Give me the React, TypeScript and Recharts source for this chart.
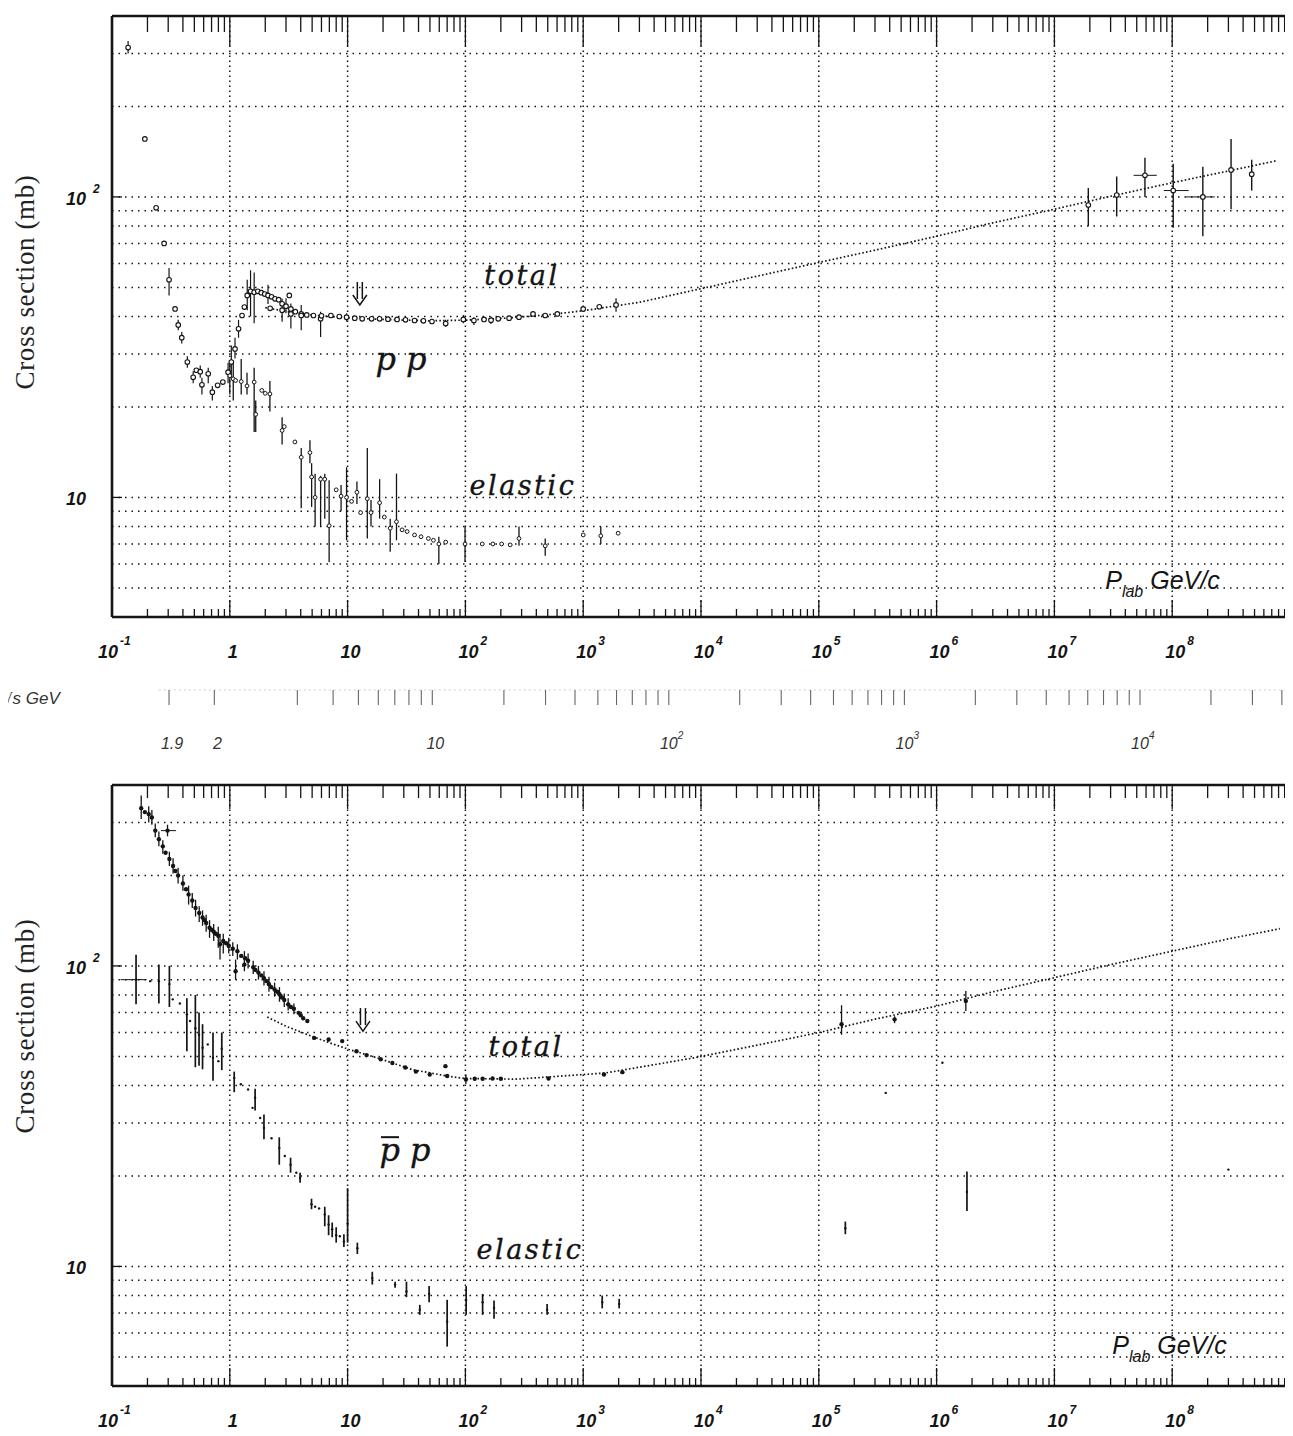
import React from "react";
import {
  ComposedChart,
  XAxis,
  YAxis,
  Scatter,
  ErrorBar,
  ReferenceLine,
  ReferenceDot,
} from "recharts";

const W = 1293;
const INK = "#141414";
const SANS = '"Liberation Sans", Arial, sans-serif';
const SERIF = '"DejaVu Serif", "Liberation Serif", serif';
const TIMES = '"Liberation Serif", "Times New Roman", serif';
const M_P = 0.938;

// axis values
const decades = [0.1, 1, 10, 100, 1e3, 1e4, 1e5, 1e6, 1e7, 1e8, 1e9];
const minorSteps = [2, 3, 4, 5, 6, 7, 8, 9];
const xTicks = [
  ...decades,
  ...decades.slice(0, -1).flatMap((d) => minorSteps.map((k) => k * d)),
].sort((a, b) => a - b);
const yGrid = [5, 6, 7, 8, 9, 10, 20, 30, 40, 50, 60, 70, 80, 90, 100, 200, 300];
const yLabels = [10, 100];

// sqrt(s) scale under the top panel
const sqrtS = [
  1.9, 2, 3, 4, 5, 6, 7, 8, 9, 10, 20, 30, 40, 50, 60, 70, 80, 90, 100, 200,
  300, 400, 500, 600, 700, 800, 900, 1000, 2000, 3000, 4000, 5000, 6000, 7000,
  8000, 9000, 10000, 20000, 30000, 40000,
];
const sqrtLabels = [1.9, 2, 10, 100, 1000, 10000];

// [p_lab, sigma, low, high]  (mb)
const ppTotal = [
  [0.137, 314, 300, 330], [0.19, 156], [0.237, 92], [0.277, 70],
  [0.305, 53, 47, 58], [0.343, 42.4], [0.365, 37.5, 36, 39], [0.391, 34, 32.5, 35.5],
  [0.436, 28.2, 27, 29.5], [0.489, 25.1, 24, 26.3], [0.52, 26.5], [0.561, 26.2, 25, 27.5],
  [0.58, 23.7, 22, 25], [0.656, 25.8, 24, 27], [0.711, 22.4, 21, 23.5], [0.788, 23.6],
  [0.873, 24.2], [0.967, 26.1, 24, 28], [1.03, 28.2, 25, 32], [1.107, 31.2, 29, 34],
  [1.186, 36.4, 34, 39], [1.27, 40.3], [1.33, 43], [1.406, 47, 42, 53],
  [1.5, 48.5, 40, 57], [1.61, 48.2, 38, 56], [1.73, 48.5], [1.85, 48],
  [1.98, 47.5], [2.11, 47, 44, 51], [2.2, 42.6], [2.26, 46.5], [2.42, 45.8],
  [2.6, 45.5], [2.78, 44.1], [2.78, 42, 38.4, 45.8], [3.0, 43.3, 41, 46], [3.2, 47],
  [3.3, 42.4], [3.3, 40.8, 36.5, 44.2], [3.6, 41.5], [4.04, 40.8], [4.04, 40.3, 36, 43.7],
  [4.5, 40.5], [5.13, 40.3], [5.9, 39.3, 34.2, 41.5], [6.0, 40.2], [7.21, 40.3],
  [8.5, 40], [9.8, 39.8, 38.5, 41], [11.5, 39.5], [13.3, 39.3], [16, 39.3],
  [18.7, 39.3], [22, 39.2], [26.3, 39.1], [31, 39], [37, 38.8], [44, 38.7],
  [52, 38.5], [68, 37.9, 37, 39], [96, 39.1, 38, 40.5], [118, 38.8, 37.5, 39.8],
  [144, 39.1], [165, 38.9, 37.8, 40], [190, 39.3], [235, 39.5], [285, 39.8],
  [375, 40.8], [476, 40.3], [603, 40.8], [1000, 42.4], [1370, 43.1],
  [1900, 43.7, 41.5, 46],
];

// cosmic ray points [p, sigma, low, high, pLow, pHigh]
const ppCosmic = [
  [1.94e7, 94, 80, 107], [3.38e7, 101.5, 86, 117],
  [5.87e7, 118, 100, 135, 4.7e7, 7.4e7], [1.02e8, 105, 79, 129, 8.5e7, 1.38e8],
  [1.82e8, 100, 74, 126, 1.3e8, 2.3e8], [3.16e8, 123, 91, 156], [4.73e8, 119, 105, 133],
];

const ppFit = [
  [2.0, 42.8], [3, 41.6], [5, 40.4], [10, 39.6], [20, 39.1], [50, 38.7],
  [100, 38.9], [200, 39.4], [500, 40.5], [1000, 41.8], [3000, 44.6], [1e4, 49.5],
  [3e4, 54.5], [1e5, 60.5], [3e5, 66.5], [1e6, 74], [3e6, 82], [1e7, 91],
  [3e7, 100.5], [1e8, 111.5], [3e8, 122], [7.7e8, 132],
];

const ppElastic = [
  [1.0, 25.4, 22, 28], [1.07, 24.8, 21, 28.5], [1.12, 24.5], [1.25, 24.3, 22, 28.9],
  [1.4, 23.5, 22, 26], [1.61, 24.2, 16.5, 27], [1.66, 18.9, 16.5, 21], [1.87, 22.7],
  [2.0, 22.2], [2.19, 22.1, 19.3, 24.4], [2.78, 16.7, 15, 18.5], [2.9, 17.2],
  [3.57, 15.3], [4.04, 13.6, 9.2, 14.6], [4.79, 14.1, 13, 15.5], [4.95, 11.7, 9.3, 13],
  [5.3, 10, 8, 12], [5.9, 11.5, 8, 11.8], [6.4, 11.5, 8.5, 12], [6.97, 8.05, 6.1, 11.4],
  [8.0, 10.6], [8.8, 10.1, 9, 11], [9.8, 10, 7.2, 12.6], [10.8, 9.7],
  [12, 10.4, 9.5, 11.3], [12.9, 8.9], [14.7, 9.9, 7.3, 14.6], [15.8, 8.9, 8, 9.8],
  [18.7, 9.6, 8.5, 11.5], [20.5, 8.6], [23, 7.9, 6.6, 8.5], [26, 8.3, 7.2, 12],
  [29, 7.8], [32, 7.7], [37, 7.5], [42, 7.4], [48.5, 7.3], [53.5, 7.2],
  [59.5, 7.0, 6.0, 7.4], [68, 7.1], [99.3, 7.0, 6.1, 8.0], [139, 7.0], [171, 7.0],
  [203, 7.0], [240, 6.95], [285, 7.3, 6.9, 8.0], [476, 6.9, 6.4, 7.3], [1000, 7.5],
  [1410, 7.45, 7.0, 8.0], [1980, 7.6],
];

const pbarpTotal = [
  [0.177, 335, 308, 369], [0.19, 325], [0.205, 320, 300, 340], [0.218, 312, 295, 330],
  [0.233, 282, 268, 298], [0.25, 264, 250, 280], [0.27, 250, 236, 262], [0.285, 238],
  [0.296, 282, 270, 295, 0.26, 0.35], [0.307, 227, 215, 240], [0.33, 215, 203, 228],
  [0.345, 207], [0.364, 200, 188, 212], [0.4, 188, 178, 200], [0.425, 180],
  [0.447, 173, 160, 185], [0.48, 165, 156, 175], [0.512, 156, 146, 166], [0.55, 150, 140, 158],
  [0.587, 145, 136, 153], [0.61, 142], [0.63, 139, 130, 148], [0.673, 134, 124, 142],
  [0.7, 132], [0.73, 130, 121, 138], [0.76, 128], [0.798, 126, 115, 135],
  [0.826, 118, 105, 128], [0.88, 121, 110, 128], [0.93, 119], [0.98, 116.6, 110, 124],
  [1.06, 114, 108, 120], [1.12, 96, 90, 105], [1.16, 112, 105, 118], [1.25, 108],
  [1.33, 101, 96, 112], [1.35, 106], [1.43, 104, 98, 110], [1.58, 99, 94, 104],
  [1.65, 97], [1.75, 95, 90, 100], [1.85, 93], [1.95, 91, 86, 96], [2.05, 89],
  [2.15, 86.9, 82, 92], [2.25, 85], [2.4, 83.5, 79, 88], [2.52, 82], [2.64, 80.5, 76, 85],
  [2.77, 78.5], [2.9, 77, 73, 81], [3.13, 74.5, 71, 78], [3.3, 73], [3.5, 72, 69, 75],
  [3.84, 69.8], [4.0, 68.5], [4.2, 67], [4.55, 65.6],
  [5.2, 57.6], [6.9, 56.9], [9.0, 56.2], [11.9, 52], [14.5, 50.5], [19.1, 48.9],
  [24, 47.5], [30.9, 45.9], [38, 44.5], [49.8, 43.5], [67.7, 46.4], [70, 43],
  [101, 41.9, 40.5, 43.5], [120, 42.1], [140, 42.1], [170, 42.2], [200, 42.1],
  [508, 42.2], [1500, 43.5], [2150, 44.3],
  [1.56e5, 64, 59, 74], [4.4e5, 66.4, 64.5, 68], [1.77e6, 76.5, 70.8, 82.5],
];

const pbarpFit = [
  [2.08, 67.6], [3, 63], [4.55, 59.1], [7, 55.5], [10.3, 52.7], [17.9, 49.4],
  [35.3, 45.2], [70, 43], [100, 42.2], [275, 42], [545, 42.8], [1520, 44],
  [3400, 46.4], [8900, 49.5], [3e4, 54.5], [1e5, 60], [3e5, 66.5], [1e6, 73.5],
  [3e6, 82], [1e7, 91.4], [3e7, 101], [1e8, 112], [3e8, 123], [8.2e8, 133],
];

const pbarpElastic = [
  [0.16, 90, 74.5, 109, 0.118, 0.197], [0.211, 89], [0.25, 89, 75, 101],
  [0.307, 87, 73, 100], [0.328, 77.4], [0.377, 75], [0.432, 69, 52, 78], [0.46, 65.6],
  [0.51, 62, 46, 80], [0.548, 59, 46.5, 70], [0.587, 53.4, 45.3, 64], [0.65, 54.8],
  [0.72, 49.5, 41.5, 60], [0.8, 48.2], [0.855, 53, 45, 60], [1.09, 42.4, 38, 44.5],
  [1.24, 40.4], [1.43, 38.8], [1.56, 33.7], [1.64, 36.4, 33, 39], [1.81, 31.2],
  [1.95, 28.9, 26.5, 32], [2.26, 26.7], [2.63, 24.8, 21.8, 26.9], [2.93, 23.3],
  [3.28, 21.8, 20.5, 23], [3.67, 20.5], [3.95, 19.7, 19, 20.5], [4.94, 16.1, 15.5, 16.8],
  [5.3, 15.8], [5.73, 15.6], [6.4, 14.9, 13.6, 15.8], [6.9, 13.8, 12.7, 14.8],
  [7.4, 13.3, 12.5, 14], [8.0, 12.7, 12.0, 13.5], [8.6, 12.6], [9.3, 12.1, 11.6, 12.8],
  [10, 13.9, 12, 18.2], [12.1, 11.5, 11, 12], [16.2, 9.15, 8.7, 9.6], [25.3, 8.7, 8.5, 8.9],
  [31.6, 8.25, 7.9, 8.9], [41, 7.17, 6.9, 7.45], [49.2, 8.1, 7.6, 8.6],
  [70, 6.55, 5.41, 7.74], [101.5, 7.74, 6.9, 8.6], [140, 7.6, 6.9, 8.1],
  [175, 7.27, 6.7, 7.7], [494, 7.17, 6.9, 7.5], [1450, 7.6, 7.25, 8.0],
  [2020, 7.5, 7.25, 7.8], [1.68e5, 13.4, 12.8, 14.1], [1.81e6, 17.7, 15.3, 20.7],
];

const pbarpStray = [[3.7e5, 37.8], [1.12e6, 47.6], [3e8, 21]];

const toRows = (pts: number[][]) =>
  pts.map(([x, y, lo, hi, xlo, xhi]) => ({
    x,
    y,
    ey: [lo === undefined ? 0 : y - lo, hi === undefined ? 0 : hi - y],
    ex: [xlo === undefined ? 0 : x - xlo, xhi === undefined ? 0 : xhi - x],
  }));

// lab momentum for a given centre-of-mass energy (pp, fixed target)
const plab = (rs: number) => {
  const e = (rs * rs - 2 * M_P * M_P) / (2 * M_P);
  return Math.sqrt(e * e - M_P * M_P);
};

const sqrtRows = sqrtS.map((s) => ({ x: plab(s), y: 1, s }));

const OpenDot = (p: any) => (
  <circle cx={p.cx} cy={p.cy} r={2.3} fill="#fff" stroke={INK} strokeWidth={1.1} />
);
const SmallOpen = (p: any) => (
  <circle cx={p.cx} cy={p.cy} r={1.9} fill="#fff" stroke={INK} strokeWidth={1} />
);
const SolidDot = (p: any) => <circle cx={p.cx} cy={p.cy} r={2.2} fill={INK} />;
const TinyDot = (p: any) => <circle cx={p.cx} cy={p.cy} r={1.2} fill={INK} />;
const NoDot = () => <g />;

function XTick(props: any) {
  const { x, y, payload, side, major, minor } = props;
  const lg = Math.log10(payload.value);
  const e = Math.round(lg);
  const isMajor = Math.abs(lg - e) < 1e-6;
  const dir = side === "top" ? 1 : -1;
  const len = isMajor ? major : minor;
  const cx = x + (e === -1 ? -4 : 3);
  return (
    <g>
      <line x1={x} x2={x} y1={y} y2={y + dir * len} stroke={INK} strokeWidth={1.3} />
      {side === "bottom" && isMajor && e < 9 && (
        <g fontFamily={SANS} fontWeight="bold" fontStyle="italic" fill={INK}>
          <text x={cx} y={y + 41} fontSize={18} textAnchor="middle">
            {e === 0 ? "1" : "10"}
          </text>
          {e !== 0 && e !== 1 && (
            <text x={cx + 12} y={y + 28} fontSize={12}>
              {String(e)}
            </text>
          )}
        </g>
      )}
    </g>
  );
}

function YTick(props: any) {
  const { x, y, payload } = props;
  return (
    <g fontFamily={SANS} fontWeight="bold" fontStyle="italic" fill={INK}>
      <line x1={x} x2={x + 10} y1={y} y2={y} stroke={INK} strokeWidth={1.3} />
      <text x={x - 26} y={y + 8} fontSize={18} textAnchor="end">
        10
      </text>
      {payload.value === 100 && (
        <text x={x - 19} y={y - 4} fontSize={12}>
          2
        </text>
      )}
    </g>
  );
}

function SqrtTick(props: any) {
  const { cx, cy, payload } = props;
  const s = payload.s;
  const labelled = sqrtLabels.includes(s);
  const pow = s >= 100 ? Math.round(Math.log10(s)) : 0;
  return (
    <g>
      <line x1={cx} x2={cx} y1={cy} y2={cy + 15} stroke="#666" strokeWidth={1.1} />
      {labelled && (
        <g fontFamily={SANS} fontStyle="italic" fill="#333" fontSize={16}>
          {pow ? (
            <>
              <text x={cx} y={cy + 59} textAnchor="middle">10</text>
              <text x={cx + 9} y={cy + 49} fontSize={10}>{String(pow)}</text>
            </>
          ) : (
            <text x={cx + 3} y={cy + 59} textAnchor="middle">{String(s)}</text>
          )}
        </g>
      )}
    </g>
  );
}

const annot = (key: string, x: number, y: number, node: (cx: number, cy: number) => any) => (
  <ReferenceDot
    key={key}
    x={x}
    y={y}
    r={0}
    ifOverflow="visible"
    shape={(p: any) => node(p.cx, p.cy)}
  />
);

const word = (txt: string, size = 27, spacing = 2.5) => (cx: number, cy: number) => (
  <text
    x={cx}
    y={cy}
    textAnchor="middle"
    fontFamily={SERIF}
    fontStyle="italic"
    fontSize={size}
    letterSpacing={spacing}
    stroke={INK}
    strokeWidth={0.35}
    fill={INK}
  >
    {txt}
  </text>
);

// double-shafted down arrow, tip at (cx, cy)
const arrow = (cx: number, cy: number) => (
  <g fill="none" stroke={INK} strokeWidth={1.5}>
    <line x1={cx - 2.5} x2={cx - 2.5} y1={cy - 23} y2={cy - 6} />
    <line x1={cx + 2.5} x2={cx + 2.5} y1={cy - 23} y2={cy - 6} />
    <polyline points={`${cx - 7},${cy - 10} ${cx},${cy} ${cx + 7},${cy - 10}`} />
  </g>
);

const plabLabel = (cx: number, cy: number) => (
  <text x={cx} y={cy} fontFamily={SANS} fontStyle="italic" fontSize={25} fill={INK}>
    P
    <tspan fontSize={16} dy={8}>lab</tspan>
    <tspan dy={-8}> GeV/c</tspan>
  </text>
);

const series = (
  id: string,
  rows: any[],
  shape: any,
  barWidth = 1.2,
  withX = false
) => (
  <Scatter key={id} data={rows} shape={shape} isAnimationActive={false}>
    <ErrorBar dataKey="ey" direction="y" width={0} stroke={INK} strokeWidth={barWidth} isAnimationActive={false} />
    {withX && (
      <ErrorBar dataKey="ex" direction="x" width={0} stroke={INK} strokeWidth={1} isAnimationActive={false} />
    )}
  </Scatter>
);

const fitLine = (id: string, pts: number[][]) => (
  <Scatter
    key={id}
    data={toRows(pts)}
    line={{ stroke: INK, strokeWidth: 1.7, strokeDasharray: "1.6 2.2" }}
    lineType="joint"
    shape={NoDot}
    isAnimationActive={false}
  />
);

function Panel(props: any) {
  const { top, height, plotTop, bottomH, topMajor, topMinor, bottomMajor, titleY, children } = props;
  return (
    <div style={{ position: "absolute", left: 0, top }}>
      <ComposedChart
        width={W}
        height={height}
        margin={{ top: plotTop - 10, right: 3, bottom: 3, left: 0 }}
      >
        <XAxis
          type="number"
          dataKey="x"
          scale="log"
          domain={[0.1, 1e9]}
          allowDataOverflow
          ticks={xTicks}
          interval={0}
          height={bottomH}
          tickSize={0}
          tickMargin={0}
          tickLine={false}
          axisLine={{ stroke: INK, strokeWidth: 2.6 }}
          tick={(t: any) => <XTick {...t} side="bottom" major={bottomMajor} minor={8} />}
        />
        <XAxis
          xAxisId="top"
          orientation="top"
          type="number"
          dataKey="x"
          scale="log"
          domain={[0.1, 1e9]}
          allowDataOverflow
          ticks={xTicks}
          interval={0}
          height={10}
          tickSize={0}
          tickMargin={0}
          tickLine={false}
          axisLine={{ stroke: INK, strokeWidth: 2.6 }}
          tick={(t: any) => <XTick {...t} side="top" major={topMajor} minor={topMinor} />}
        />
        <YAxis
          type="number"
          dataKey="y"
          scale="log"
          domain={[4, 400]}
          allowDataOverflow
          ticks={yLabels}
          interval={0}
          width={112}
          tickSize={0}
          tickMargin={0}
          tickLine={false}
          axisLine={{ stroke: INK, strokeWidth: 2.6 }}
          tick={(t: any) => <YTick {...t} />}
        />
        {decades.slice(1, -1).map((d) => (
          <ReferenceLine key={"v" + d} x={d} stroke={INK} strokeWidth={1.5} strokeDasharray="1.5 3.5" />
        ))}
        {yGrid.map((v) => (
          <ReferenceLine key={"h" + v} y={v} stroke={INK} strokeWidth={1.5} strokeDasharray="1.5 5" />
        ))}
        <ReferenceLine x={1e9} stroke={INK} strokeWidth={2.6} ifOverflow="visible" />
        {children}
      </ComposedChart>
      <svg style={{ position: "absolute", left: 0, top: 0 }} width={60} height={height}>
        <text
          transform={`translate(34, ${titleY}) rotate(-90)`}
          textAnchor="middle"
          fontFamily={TIMES}
          fontSize={27}
          letterSpacing={0.6}
          fill="#222"
        >
          Cross section (mb)
        </text>
      </svg>
    </div>
  );
}

export default function App() {
  const topChildren = [
    fitLine("ppfit", ppFit),
    series("pptot", toRows(ppTotal), OpenDot),
    series("ppcos", toRows(ppCosmic), OpenDot, 1.4, true),
    series("ppel", toRows(ppElastic), SmallOpen, 1.3),
    annot("t1", 302, 50.9, word("total")),
    annot("t2", 28.4, 26.5, word("p p", 32, 0)),
    annot("t3", 308, 10.2, word("elastic")),
    annot("t4", 2.7e7, 4.97, plabLabel),
    annot("t5", 12.7, 43.7, arrow),
  ];

  const bottomChildren = [
    fitLine("pbfit", pbarpFit),
    series("pbtot", toRows(pbarpTotal), SolidDot, 1.3, true),
    series("pbel", toRows(pbarpElastic), TinyDot, 1.7, true),
    series("pbst", toRows(pbarpStray), TinyDot),
    annot("b1", 327, 50.1, word("total")),
    annot("b2", 30.7, 22.4, (cx: number, cy: number) => (
      <g>
        {word("p p", 32, 0)(cx, cy)}
        <line x1={cx - 24} x2={cx - 6} y1={cy - 24} y2={cy - 24} stroke={INK} strokeWidth={2} />
      </g>
    )),
    annot("b3", 353, 10.6, word("elastic")),
    annot("b4", 3.1e7, 5.13, plabLabel),
    annot("b5", 13.5, 60.7, arrow),
  ];

  return (
    <div style={{ position: "relative", width: W, height: 1436, margin: -8, background: "#fff", overflow: "hidden" }}>
      <Panel top={0} height={680} plotTop={16} bottomH={60} topMajor={30} topMinor={16} bottomMajor={17} titleY={282}>
        {topChildren}
      </Panel>

      <div style={{ position: "absolute", left: 0, top: 680 }}>
        <ComposedChart width={W} height={100} margin={{ top: 10, right: 3, bottom: 0, left: 112 }}>
          <XAxis type="number" dataKey="x" scale="log" domain={[0.1, 1e9]} allowDataOverflow hide height={0} />
          <YAxis type="number" dataKey="y" domain={[0, 1]} allowDataOverflow hide width={0} />
          <ReferenceLine
            segment={[{ x: 0.25, y: 1 }, { x: 1e9, y: 1 }]}
            stroke="#cfcfcf"
            strokeDasharray="2 3"
          />
          <Scatter data={sqrtRows} shape={(p: any) => <SqrtTick {...p} />} isAnimationActive={false} />
        </ComposedChart>
        <svg style={{ position: "absolute", left: 0, top: 0 }} width={110} height={40}>
          <text x={3} y={24} fontFamily={SANS} fontStyle="italic" fontSize={17} fill="#333">
            <tspan fontFamily='"DejaVu Sans", sans-serif' fontStyle="normal" fontSize={15}>{"\u221A"}</tspan>
            {"s GeV"}
          </text>
        </svg>
      </div>

      <Panel top={770} height={666} plotTop={15} bottomH={47} topMajor={24} topMinor={13} bottomMajor={18} titleY={256}>
        {bottomChildren}
      </Panel>
    </div>
  );
}
